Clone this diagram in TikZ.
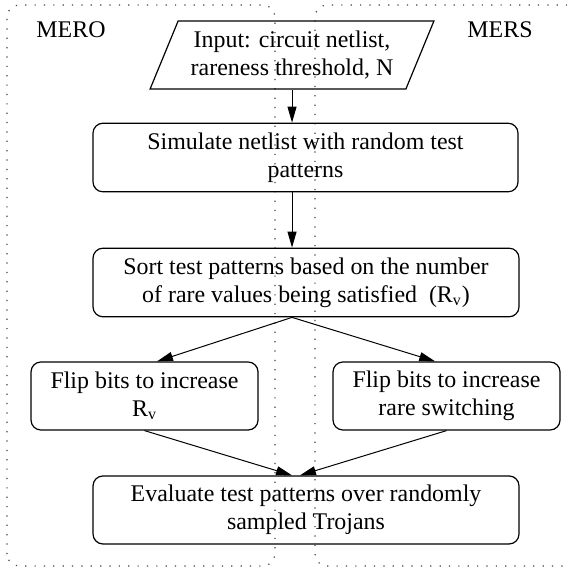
\documentclass[tikz,border=0pt]{standalone}
\usepackage{fontspec}
\setmainfont{Liberation Serif}
\usetikzlibrary{arrows.meta}
\usetikzlibrary{shapes.geometric}
\tikzset{>={Triangle[length=8pt,width=4.5pt]}}
\tikzset{
	stepbox/.style={draw, line width=0.6pt, rounded corners=5pt, align=center, minimum height=1.21cm, inner sep=2pt},
	region/.style={draw=black!75, line width=0.6pt, dash pattern=on 0.6pt off 4.1pt, rounded corners=6pt},
	flow/.style={->, line width=0.5pt}
}

\begin{document}
\begin{tikzpicture}[font=\fontsize{12}{14}\selectfont]
	\useasboundingbox (0,0) rectangle (10,10.035);

	% the two methods
	\draw[region] (0.123,0.053) rectangle (4.85,9.947);
	\draw[region] (10.5,9.947) -- (5.556,9.947) -- (5.556,0.053) -- (10.5,0.053);
	\node (mero) at (1.252,9.506) {MERO};
	\node (mers) at (8.818,9.506) {MERS};

	\node[draw, line width=0.6pt, trapezium, trapezium left angle=64, trapezium right angle=116,
		trapezium stretches=true, minimum width=5.01cm, minimum height=1.2cm, align=center, inner sep=1pt]
		(input) at (5.150,9.065) {Input: circuit netlist,\\ rareness threshold, N};
	\node[stepbox, minimum width=7.496cm] (sim) at (5.388,7.257)
		{Simulate netlist with random test\\ patterns};
	\node[stepbox, minimum width=7.513cm] (sort) at (5.397,5.053)
		{Sort test patterns based on the number\\ of rare values being satisfied~~(R\textsubscript{v})};
	\node[stepbox, minimum width=4.004cm, minimum height=1.2cm] (flipL) at (2.549,3.051)
		{Flip bits to increase\\ R\textsubscript{v}};
	\node[stepbox, minimum width=4.004cm, minimum height=1.2cm] (flipR) at (7.875,3.051)
		{Flip bits to increase\\ rare switching};
	\node[stepbox, minimum width=7.513cm, minimum height=1.2cm] (eval) at (5.397,1.041)
		{Evaluate test patterns over randomly\\ sampled Trojans};

	\coordinate (split) at (sort.south -| input.south);
	\coordinate (join) at (eval.north -| input.south);

	\draw[flow] (input.south) -- (input.south |- sim.north);
	\draw[flow] (sim.south -| input.south) -- (sort.north -| input.south);
	\draw[flow] (split) -- ([xshift=0.22cm]flipL.north);
	\draw[flow] (split) -- ([xshift=-0.2cm]flipR.north);
	\draw[flow] (flipL.south) -- (join);
	\draw[flow] (flipR.south) -- ([xshift=4pt]join);
\end{tikzpicture}
\end{document}
